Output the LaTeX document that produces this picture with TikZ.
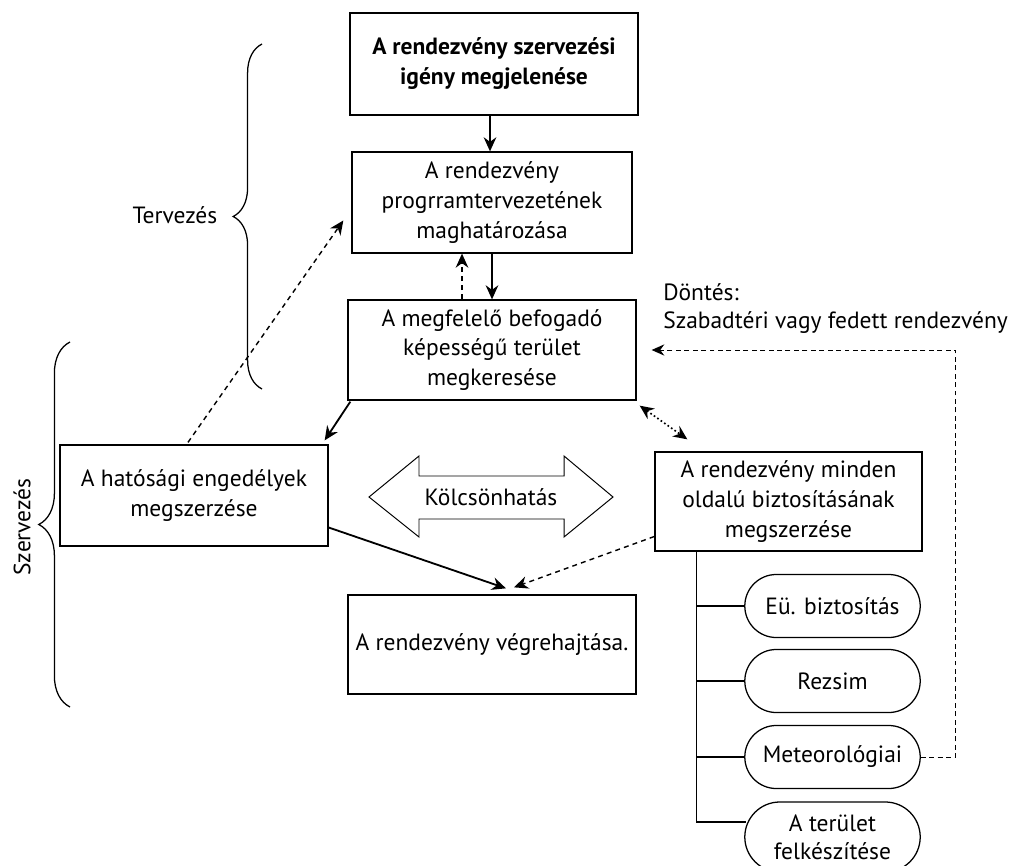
\documentclass[tikz,border=0pt]{standalone}
\usepackage{fontspec}
\setmainfont{PT Sans}
\usetikzlibrary{positioning,calc,arrows.meta,shapes.misc,decorations.pathreplacing}

\tikzset{
  stage/.style={
    draw,
    line width=0.9pt,
    align=center,
    inner sep=2pt,
    font=\fontsize{16.7}{21.3}\selectfont
  },
  headstage/.style={
    stage,
    font=\fontsize{16.7}{21.3}\selectfont\bfseries
  },
  pill/.style={
    rounded rectangle,
    draw,
    line width=0.9pt,
    align=center,
    inner sep=2pt,
    minimum width=4.525cm,
    minimum height=1.575cm,
    font=\fontsize{16.7}{20}\selectfont
  },
  flow/.style={
    -{Stealth[length=10pt,width=9pt]},
    line width=1.3pt
  },
  feedback/.style={
    flow,
    line width=1pt,
    dash pattern=on 3.5pt off 3pt
  },
  mutual/.style={
    {Stealth[length=10pt,width=9pt]}-{Stealth[length=10pt,width=9pt]},
    line width=1.2pt,
    dash pattern=on 1.2pt off 1.8pt
  },
  decision/.style={
    -{Stealth[length=9pt,width=8pt]},
    line width=0.7pt,
    dash pattern=on 3.5pt off 2.5pt
  },
  phase/.style={
    decorate,
    line width=0.9pt
  },
  branch/.style={
    line width=0.9pt
  }
}

\begin{document}
\begin{tikzpicture}[x=0.025cm, y=-0.025cm]
\useasboundingbox[fill=white] (0,0) rectangle (1011,866);

% main stages
\node[headstage, minimum width=7.2cm, minimum height=2.55cm] (need) at (494,64)
  {A rendezvény szervezési\\igény megjelenése};
\node[stage, minimum width=7cm, minimum height=2.525cm] (prog) at (492,202.5)
  {A rendezvény\\progrramtervezetének\\maghatározása};
\node[stage, minimum width=7.2cm, minimum height=2.5cm] (venue) at (492,350)
  {A megfelelő befogadó\\képességű terület\\megkeresése};
\node[stage, minimum width=6.7cm, minimum height=2.525cm] (permit) at (194,495.5)
  {A hatósági engedélyek\\megszerzése};
\node[stage, minimum width=7.2cm, minimum height=2.475cm] (exec) at (492,644.5)
  {A rendezvény végrehajtása.};
\node[stage, minimum width=6.675cm, minimum height=2.475cm] (insure) at (788.5,501.5)
  {A rendezvény minden\\oldalú biztosításának\\megszerzése};

% kinds of insurance
\node[pill] (health) at (832.5,606) {Eü. biztosítás};
\node[pill] (regime) at (832.5,681) {Rezsim};
\node[pill] (weather) at (832.5,757) {Meteorológiai};
\node[pill, minimum height=1.75cm] (site) at (832.5,837) {A terület\\felkészítése};

% interaction arrow
\coordinate (mid) at (491,497);
\draw[line width=0.7pt]
  ($(mid)+(-122,0)$) -- ($(mid)+(-72,-41)$) -- ($(mid)+(-72,-21)$)
  -- ($(mid)+(73,-21)$) -- ($(mid)+(73,-41)$) -- ($(mid)+(122,0)$)
  -- ($(mid)+(73,40)$) -- ($(mid)+(73,22)$) -- ($(mid)+(-72,22)$)
  -- ($(mid)+(-72,40)$) -- cycle;
\node[font=\fontsize{16.7}{20}\selectfont] (inter) at (mid) {Kölcsönhatás};

% labels
\node[font=\fontsize{16.7}{20}\selectfont, anchor=north west, align=left, inner sep=0pt] (choice) at (663,283)
  {Döntés:\\Szabadtéri vagy fedett rendezvény};
\node[font=\fontsize{16.7}{20}\selectfont] (plan) at (175,215) {Tervezés};
\node[font=\fontsize{16.7}{20}\selectfont, rotate=90] (org) at (22,527) {Szervezés};

% phase braces
\coordinate (planA) at (262,389);
\coordinate (planB) at (262,44);
\coordinate (orgA) at (70,707);
\coordinate (orgB) at (70,342);
\draw[phase, decoration={brace, amplitude=0.72cm}] (planA) -- (planB);
\draw[phase, decoration={brace, amplitude=0.78cm}] (orgA) -- (orgB);

% flow
\draw[flow] ($(need.south)+(-4,0)$) -- ($(need.south |- prog.north)+(-4,0)$);
\draw[flow] (prog.south) -- (venue.north);
\draw[feedback] ($(venue.north)+(-30,0)$) -- ($(prog.south)+(-30,0)$);
\draw[flow] ($(venue.south west)+(3,1)$) -- ($(permit.north east)+(-4,-4)$);
\draw[feedback] ($(permit.north)+(-6,-2)$) -- ($(prog.west)+(-8,18)$);
\draw[mutual] ($(venue.south east)+(3,5)$) -- ($(insure.north west)+(33,-12)$);
\draw[flow] ($(permit.east)+(0,32)$) -- ($(exec.north)+(14,-6)$);
\draw[feedback] ($(insure.west)+(0,35)$) -- ($(exec.north)+(22,-7)$);
\draw[decision] (weather.east) -- ++(35,0) |- ($(venue.east)+(15,0)$);

% insurance tree
\coordinate (trunk) at ($(insure.south west)+(42,0)$);
\draw[branch] (trunk) |- ($(site.west)+(2,-15)$);
\foreach \p in {health,regime,weather}
  \draw[branch] (trunk |- \p.west) -- (\p.west);
\end{tikzpicture}
\end{document}
